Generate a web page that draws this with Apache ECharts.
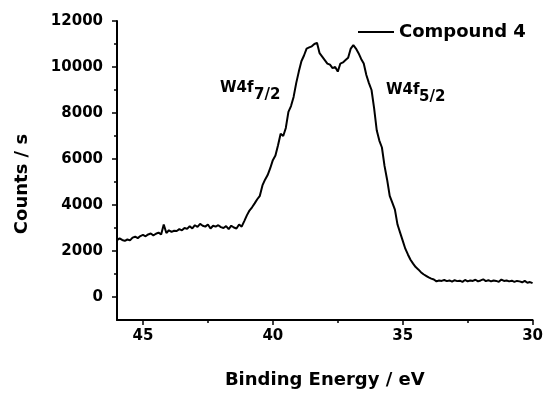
<!DOCTYPE html>
<html>
<head>
<meta charset="utf-8">
<script src="https://cdn.jsdelivr.net/npm/echarts@6/dist/echarts.min.js"></script>
<style>html,body{margin:0;padding:0;background:#fff}#c{width:546px;height:394px}</style>
</head>
<body>
<div id="c"></div>
<script>
// Binding energy (eV), from 46.0 down to 30.0 in 0.1 eV steps
const energyStart = 46.0;
const energyStep = 0.1;
// Counts / s
const counts = [
  2470, 2550, 2480, 2440, 2500, 2460, 2580, 2620, 2560, 2650,
  2700, 2640, 2720, 2760, 2680, 2750, 2800, 2720, 3150, 2780,
  2900, 2830, 2880, 2870, 2950, 2900, 3000, 2960, 3080, 2980,
  3120, 3050, 3180, 3100, 3060, 3150, 2980, 3100, 3060, 3120,
  3040, 3000, 3080, 2950, 3100, 3020, 2980, 3150, 3060, 3300,
  3550, 3760, 3900, 4070, 4250, 4400, 4850, 5100, 5300, 5600,
  5950, 6150, 6600, 7100, 7000, 7350, 8050, 8300, 8700, 9300,
  9800, 10250, 10500, 10800, 10850, 10900, 11000, 11050, 10600, 10450,
  10300, 10150, 10100, 9950, 10000, 9800, 10150, 10200, 10300, 10400,
  10800, 10950, 10800, 10600, 10350, 10150, 9650, 9300, 9000, 8200,
  7250, 6800, 6500, 5700, 5100, 4400, 4100, 3800, 3150, 2800,
  2450, 2100, 1850, 1620, 1450, 1300, 1200, 1080, 990, 920,
  850, 800, 760, 680, 720, 700, 740, 690, 720, 670,
  730, 690, 710, 660, 740, 680, 720, 700, 750, 680,
  720, 770, 690, 730, 680, 720, 700, 660, 760, 700,
  720, 680, 710, 660, 700, 680, 640, 700, 620, 650,
  600
];
const xMajorTicks = [45, 40, 35, 30];
const xMinorTicks = [42.5, 37.5, 32.5];
const yMajorTicks = [0, 2000, 4000, 6000, 8000, 10000, 12000];
const yMinorTicks = [1000, 3000, 5000, 7000, 9000, 11000];
const seriesName = 'Compound 4';

const data = counts.map((v, i) => [+(energyStart - i * energyStep).toFixed(1), v]);

const FONT = 'DejaVu Sans';
const chart = echarts.init(document.getElementById('c'), null, {renderer: 'canvas'});
const axisLineStyle = {color: '#000', width: 2};
chart.setOption({
  animation: false,
  backgroundColor: '#fff',
  grid: {left: 117, right: 13, top: 21, bottom: 66, containLabel: false},
  legend: {
    data: [{name: seriesName}],
    left: 353, top: 18,
    itemWidth: 36, itemHeight: 20, itemGap: 6,
    icon: 'path://M0,9 L36,9 L36,11 L0,11 Z',
    textStyle: {fontFamily: FONT, fontWeight: 'bold', fontSize: 18, color: '#000', padding: [0, 0, 0, 0]}
  },
  xAxis: [{
    type: 'value', min: 30, max: 46, interval: 5, inverse: true,
    axisLine: {onZero: false, lineStyle: axisLineStyle},
    axisTick: {show: true, inside: false, length: 5, lineStyle: {color: '#000', width: 1.5}, customValues: xMajorTicks},
    axisLabel: {fontFamily: FONT, fontWeight: 'bold', fontSize: 15, color: '#000', margin: 9, customValues: xMajorTicks,
                formatter: v => String(v)},
    splitLine: {show: false},
    name: 'Binding Energy / eV', nameLocation: 'middle', nameGap: 51,
    nameTextStyle: {fontFamily: FONT, fontWeight: 'bold', fontSize: 18, color: '#000'}
  }, {
    type: 'value', min: 30, max: 46, interval: 2.5, inverse: true, position: 'bottom',
    axisLine: {show: false, onZero: false},
    axisTick: {show: true, length: 3, lineStyle: {color: '#000', width: 1.5}, customValues: xMinorTicks},
    axisLabel: {show: false},
    splitLine: {show: false}
  }],
  yAxis: [{
    type: 'value', min: -1000, max: 12000, interval: 1000,
    axisLine: {show: true, onZero: false, lineStyle: axisLineStyle},
    axisTick: {show: true, length: 5, lineStyle: {color: '#000', width: 1.5}, customValues: yMajorTicks},
    axisLabel: {fontFamily: FONT, fontWeight: 'bold', fontSize: 15, color: '#000', margin: 14, customValues: yMajorTicks,
                formatter: v => String(v)},
    splitLine: {show: false}
  }, {
    type: 'value', min: -1000, max: 12000, interval: 1000, position: 'left',
    axisLine: {show: false, onZero: false},
    axisTick: {show: true, length: 3, lineStyle: {color: '#000', width: 1.5}, customValues: yMinorTicks},
    axisLabel: {show: false},
    splitLine: {show: false}
  }],
  graphic: [
    {type: 'text', x: 22, y: 184, rotation: Math.PI / 2,
     style: {text: 'Counts / s', fontFamily: FONT, fontWeight: 'bold', fontSize: 18, fill: '#000', align: 'center', verticalAlign: 'middle'}},
    {type: 'text', x: 220, y: 88,
     style: {text: 'W4f', fontFamily: FONT, fontWeight: 'bold', fontSize: 15, fill: '#000', align: 'left', verticalAlign: 'middle'}},
    {type: 'text', x: 254, y: 95,
     style: {text: '7/2', fontFamily: FONT, fontWeight: 'bold', fontSize: 15, fill: '#000', align: 'left', verticalAlign: 'middle'}},
    {type: 'text', x: 386, y: 90,
     style: {text: 'W4f', fontFamily: FONT, fontWeight: 'bold', fontSize: 15, fill: '#000', align: 'left', verticalAlign: 'middle'}},
    {type: 'text', x: 419, y: 97,
     style: {text: '5/2', fontFamily: FONT, fontWeight: 'bold', fontSize: 15, fill: '#000', align: 'left', verticalAlign: 'middle'}}
  ],
  series: [{
    name: seriesName, type: 'line', data: data, xAxisIndex: 0, yAxisIndex: 0,
    symbol: 'none', showSymbol: false,
    lineStyle: {color: '#000', width: 2}, itemStyle: {color: '#000'}
  }]
});
</script>
</body>
</html>
